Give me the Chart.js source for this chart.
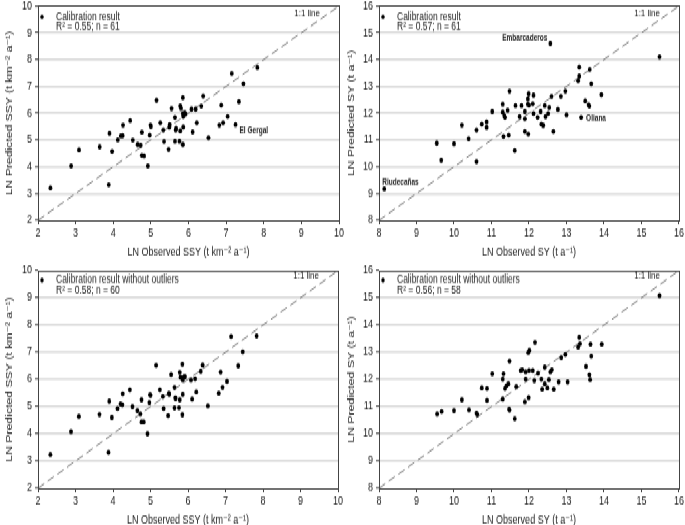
<!DOCTYPE html>
<html>
<head>
<meta charset="utf-8">
<script src="https://cdn.jsdelivr.net/npm/chart.js@4.4.0/dist/chart.umd.min.js"></script>
<style>
  html, body { margin: 0; padding: 0; background: #fff; overflow: hidden; }
  #wrap { position: absolute; left: 0; top: 0; width: 685px; height: 386px; transform: scaleY(1.36); transform-origin: 0 0; }
  #wrap canvas { position: absolute; }
</style>
</head>
<body>
<div id="wrap">
  <canvas id="c1" width="352" height="195" style="left:0px;top:-4px"></canvas>
  <canvas id="c2" width="343" height="195" style="left:342px;top:-4px"></canvas>
  <canvas id="c3" width="352" height="198" style="left:0px;top:190px"></canvas>
  <canvas id="c4" width="343" height="198" style="left:342px;top:190px"></canvas>
</div>
<script>
// axis ranges (ticks every 1)
const ssyRange = [2, 10];
const syRange = [8, 16];

// panel 1: SSY, all catchments
const p1Obs = [2.33, 2.88, 3.09, 3.64, 3.88, 3.90, 3.97, 4.12, 4.20, 4.25, 4.26, 4.45, 4.52, 4.65, 4.73, 4.76, 4.76, 4.82, 4.92, 4.97,
  4.99, 5.00, 5.15, 5.25, 5.33, 5.35, 5.47, 5.49, 5.50, 5.55, 5.64, 5.64, 5.66, 5.67, 5.76, 5.78, 5.78, 5.80, 5.85, 5.85,
  5.86, 5.86, 5.85, 5.92, 5.90, 6.08, 6.11, 6.19, 6.22, 6.34, 6.39, 6.53, 6.82, 6.87, 6.92, 7.04, 7.15, 7.25, 7.34, 7.46, 7.83];
const p1Pred = [3.21, 4.03, 4.63, 4.74, 3.33, 5.25, 4.57, 5.00, 5.15, 5.16, 5.55, 5.72, 4.99, 4.83, 4.80, 5.29, 4.42, 4.40, 4.03, 5.18,
  5.55, 5.50, 6.48, 5.64, 5.37, 4.94, 4.65, 5.48, 5.57, 6.17, 5.84, 4.95, 5.37, 5.43, 4.95, 5.34, 6.27, 6.18, 6.58, 5.99,
  5.88, 5.48, 4.83, 5.97, 6.02, 6.15, 5.30, 6.15, 5.64, 6.26, 6.64, 5.08, 5.55, 6.30, 5.64, 5.88, 7.48, 5.57, 6.43, 7.10, 7.70];
const p1NoteNames = ['El Gergal'];
const p1NoteObs = [7.25];

// panel 2: SY, all catchments
const p2Obs = [8.14, 9.54, 9.66, 10.00, 10.21, 10.39, 10.60, 10.60, 10.74, 10.87, 10.87, 11.02, 11.30, 11.30, 11.32, 11.34, 11.36, 11.43, 11.46, 11.48,
  11.62, 11.64, 11.75, 11.80, 11.89, 11.89, 11.89, 11.97, 11.97, 11.98, 11.99, 12.00, 12.10, 12.12, 12.12, 12.23, 12.31, 12.33, 12.38, 12.42,
  12.44, 12.51, 12.54, 12.57, 12.60, 12.65, 12.77, 12.85, 12.97, 13.00, 13.31, 13.34, 13.34, 13.39, 13.50, 13.59, 13.61, 13.62, 13.66, 13.93, 15.48];
const p2Pred = [9.17, 10.88, 10.24, 10.86, 11.55, 11.04, 11.37, 10.19, 11.59, 11.67, 11.47, 12.06, 12.33, 12.04, 11.13, 11.91, 11.84, 12.11, 11.18, 12.82,
  10.61, 12.28, 11.87, 12.28, 12.06, 11.79, 11.32, 12.53, 12.33, 11.22, 12.72, 12.30, 12.35, 12.67, 11.99, 11.84, 12.06, 11.59, 11.54, 12.28,
  11.87, 11.99, 12.21, 14.60, 12.63, 11.32, 12.14, 12.63, 12.82, 11.94, 13.21, 13.72, 13.38, 11.84, 12.46, 12.31, 12.26, 13.63, 13.10, 12.69, 14.10];
const p2NoteNames = ['Riudecañas', 'Embarcaderos', 'Oliana'];
const p2NoteObs = [8.14, 12.57, 13.39];

// panel 3: SSY without outliers
const p3Obs = [2.33, 2.88, 3.09, 3.64, 3.88, 3.90, 3.97, 4.12, 4.20, 4.25, 4.26, 4.45, 4.52, 4.65, 4.73, 4.76, 4.76, 4.82, 4.92, 4.97,
  4.99, 5.00, 5.15, 5.25, 5.33, 5.35, 5.47, 5.49, 5.50, 5.55, 5.64, 5.64, 5.66, 5.67, 5.76, 5.78, 5.78, 5.80, 5.85, 5.85,
  5.86, 5.86, 5.85, 5.92, 5.90, 6.08, 6.11, 6.19, 6.22, 6.34, 6.39, 6.53, 6.82, 6.87, 6.92, 7.04, 7.15, 7.34, 7.46, 7.83];
const p3Pred = [3.24, 4.08, 4.64, 4.71, 3.32, 5.20, 4.60, 4.93, 5.10, 5.07, 5.47, 5.62, 5.00, 4.85, 4.73, 5.25, 4.44, 4.44, 4.00, 5.15,
  5.44, 5.41, 6.52, 5.62, 5.37, 4.93, 4.67, 5.49, 5.45, 6.18, 5.71, 4.95, 5.32, 5.30, 4.96, 5.25, 6.26, 6.08, 6.56, 6.05,
  5.98, 5.45, 4.70, 6.10, 6.10, 5.98, 5.28, 6.02, 5.54, 6.30, 6.53, 5.03, 5.49, 6.27, 5.71, 5.93, 7.58, 6.50, 7.02, 7.60];

// panel 4: SY without outliers
const p4Obs = [9.55, 9.67, 10.00, 10.21, 10.40, 10.60, 10.62, 10.74, 10.88, 10.88, 11.02, 11.30, 11.30, 11.32, 11.36, 11.40, 11.45, 11.47, 11.48, 11.48,
  11.62, 11.66, 11.78, 11.82, 11.89, 11.91, 11.91, 11.98, 11.99, 12.00, 12.01, 12.10, 12.14, 12.16, 12.24, 12.33, 12.35, 12.42, 12.42, 12.49,
  12.53, 12.57, 12.61, 12.66, 12.79, 12.86, 12.97, 13.03, 13.31, 13.34, 13.36, 13.52, 13.61, 13.63, 13.64, 13.66, 13.94, 15.48];
const p4Pred = [10.73, 10.82, 10.85, 11.25, 10.88, 10.76, 10.71, 11.69, 11.67, 11.23, 12.21, 12.01, 11.28, 12.21, 11.67, 11.77, 11.84, 10.91, 10.87, 12.67,
  10.56, 11.74, 12.33, 12.36, 11.18, 12.28, 12.01, 12.99, 11.33, 12.33, 13.07, 12.33, 11.96, 13.36, 12.23, 12.01, 11.64, 12.45, 11.84, 11.69,
  11.99, 12.28, 12.36, 11.64, 11.91, 12.80, 12.92, 11.91, 13.19, 13.55, 13.31, 12.48, 12.17, 11.99, 13.29, 12.86, 13.29, 15.08];

const FONT = '"Liberation Sans", Arial, "DejaVu Sans", sans-serif';
const INK = '#222';

// placement of the named-point labels
const noteStyle = {
  'El Gergal':    { dx: 4,  dy: 5,    align: 'left',  weight: 'bold' },
  'Riudecañas':   { dx: -2, dy: -5,   align: 'left',  weight: 'bold' },
  'Embarcaderos': { dx: -3, dy: -3.7, align: 'right', weight: 'bold' },
  'Oliana':       { dx: 5,  dy: 0.5,  align: 'left',  weight: 'bold' }
};

// frame, in-plot legend, "1:1 line" text and point labels
const framePlugin = {
  id: 'frame',
  afterDraw(chart, args, o) {
    const { ctx, chartArea: a } = chart;
    const xs = chart.scales.x, ys = chart.scales.y;
    ctx.save();
    ctx.strokeStyle = '#444';
    ctx.lineWidth = 1;
    ctx.strokeRect(Math.round(a.left) + 0.5, Math.round(a.top) + 0.5, Math.round(a.right - a.left), Math.round(a.bottom - a.top));

    ctx.fillStyle = '#000';
    ctx.beginPath();
    ctx.arc(a.left + 4, a.top + o.legY, 1.7, 0, Math.PI * 2);
    ctx.fill();
    ctx.fillStyle = INK;
    ctx.font = '8.5px ' + FONT;
    ctx.textBaseline = 'middle';
    ctx.textAlign = 'left';
    ctx.fillText(o.title, a.left + 18, a.top + o.legY);
    ctx.fillText(o.stats, a.left + 18, a.top + o.legY + 7.5);
    ctx.font = '8px ' + FONT;
    ctx.textAlign = 'right';
    ctx.fillText('1:1 line', a.right - 19, a.top + o.lineY);

    (o.notes || []).forEach(n => {
      const s = noteStyle[n.name];
      ctx.font = s.weight + ' 6.5px ' + FONT;
      ctx.textAlign = s.align;
      ctx.fillText(n.name, xs.getPixelForValue(n.x) + s.dx, ys.getPixelForValue(n.y) + s.dy);
    });
    ctx.restore();
  }
};

function makeNotes(names, obsList, obs, pred) {
  return names.map((name, i) => {
    const k = obs.indexOf(obsList[i]);
    return { name: name, x: obs[k], y: pred[k] };
  });
}

function makePanel(cfg) {
  const pts = cfg.obs.map((v, i) => ({ x: v, y: cfg.pred[i] }));
  const diag = cfg.range.map(v => ({ x: v, y: v }));
  const ctx = document.getElementById(cfg.id).getContext('2d');
  return new Chart(ctx, {
    type: 'scatter',
    data: {
      datasets: [{
        data: pts,
        pointRadius: 1.9,
        pointBackgroundColor: '#000',
        pointBorderWidth: 0,
        order: 1
      }, {
        type: 'line',
        data: diag,
        borderColor: '#808080',
        borderWidth: 1,
        borderDash: [7, 4],
        pointRadius: 0,
        fill: false,
        order: 2
      }]
    },
    options: {
      responsive: false,
      animation: false,
      layout: { padding: { top: cfg.padTop, right: cfg.padRight, left: 0, bottom: 0 } },
      plugins: {
        legend: { display: false },
        tooltip: { enabled: false },
        frame: { title: cfg.title, stats: cfg.stats, notes: cfg.notes, legY: cfg.legY, lineY: cfg.lineY }
      },
      scales: {
        x: {
          type: 'linear',
          min: cfg.range[0],
          max: cfg.range[1],
          afterFit: s => { s.height = 29; },
          ticks: { stepSize: 1, padding: 1, color: INK, font: { size: 9, family: FONT } },
          grid: { drawOnChartArea: false, tickLength: 3, tickColor: '#444', tickWidth: 1 },
          border: { display: false },
          title: { display: true, text: cfg.xTitle, color: INK, padding: { top: 0, bottom: 0 }, font: { size: 9, family: FONT } }
        },
        y: {
          type: 'linear',
          min: cfg.range[0],
          max: cfg.range[1],
          afterFit: s => { s.width = cfg.yWidth; },
          ticks: { stepSize: 1, padding: 3, color: INK, font: { size: 9, family: FONT } },
          grid: {
            color: c => (c.tick && (c.tick.value === cfg.range[0] || c.tick.value === cfg.range[1])) ? 'rgba(0,0,0,0)' : '#dadada',
            lineWidth: 1.4, tickLength: 3, tickColor: '#444', tickWidth: 1
          },
          border: { display: false },
          title: { display: true, text: cfg.yTitle, color: INK, padding: { top: 4.5, bottom: 0 }, font: { size: 9, family: FONT } }
        }
      }
    },
    plugins: [framePlugin]
  });
}

makePanel({
  id: 'c1', obs: p1Obs, pred: p1Pred, range: ssyRange, padTop: 7, padRight: 13, yWidth: 38, legY: 8, lineY: 5,
  xTitle: 'LN Observed SSY (t km⁻² a⁻¹)', yTitle: 'LN Predicted SSY (t km⁻² a⁻¹)',
  title: 'Calibration result', stats: 'R² = 0.55; n = 61',
  notes: makeNotes(p1NoteNames, p1NoteObs, p1Obs, p1Pred)
});
makePanel({
  id: 'c2', obs: p2Obs, pred: p2Pred, range: syRange, padTop: 7, padRight: 5, yWidth: 37, legY: 8, lineY: 5,
  xTitle: 'LN Observed SY (t a⁻¹)', yTitle: 'LN Predicted SY (t a⁻¹)',
  title: 'Calibration result', stats: 'R² = 0.57; n = 61',
  notes: makeNotes(p2NoteNames, p2NoteObs, p2Obs, p2Pred)
});
makePanel({
  id: 'c3', obs: p3Obs, pred: p3Pred, range: ssyRange, padTop: 9, padRight: 14, yWidth: 38, legY: 7, lineY: 4,
  xTitle: 'LN Observed SSY (t km⁻² a⁻¹)', yTitle: 'LN Predicted SSY (t km⁻² a⁻¹)',
  title: 'Calibration result without outliers', stats: 'R² = 0.58; n = 60',
  notes: []
});
makePanel({
  id: 'c4', obs: p4Obs, pred: p4Pred, range: syRange, padTop: 9, padRight: 5, yWidth: 37, legY: 7, lineY: 4,
  xTitle: 'LN Observed SY (t a⁻¹)', yTitle: 'LN Predicted SY (t a⁻¹)',
  title: 'Calibration result without outliers', stats: 'R² = 0.56; n = 58',
  notes: []
});
</script>
</body>
</html>
